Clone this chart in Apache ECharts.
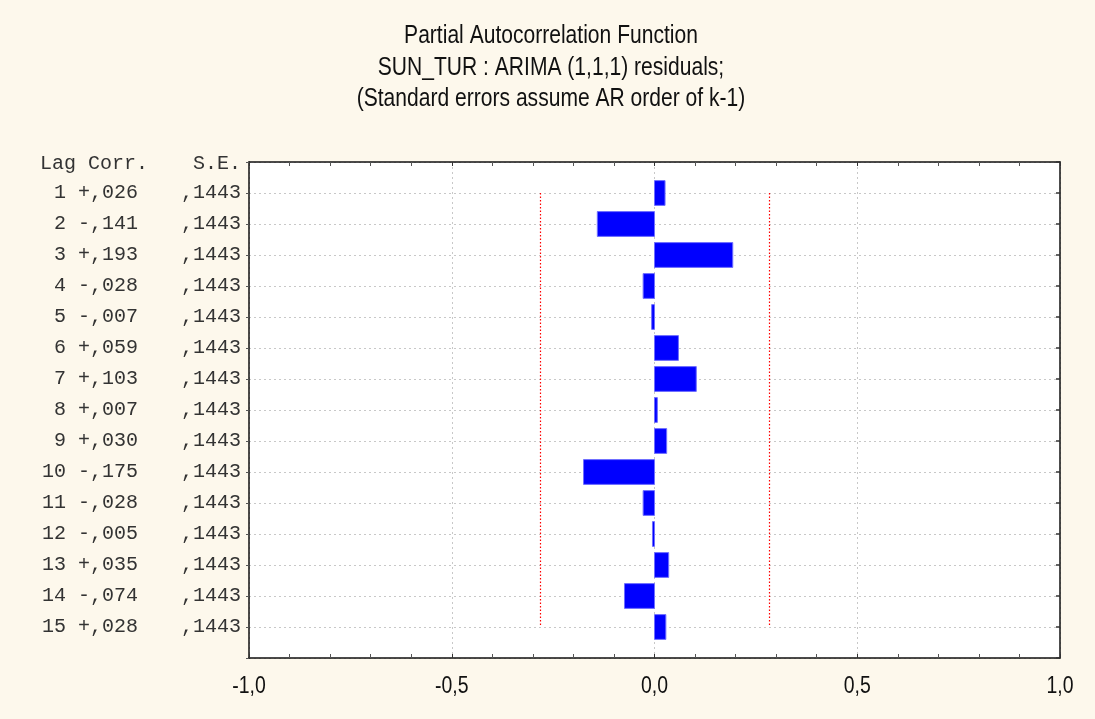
<!DOCTYPE html>
<html>
<head>
<meta charset="utf-8">
<script src="https://cdn.jsdelivr.net/npm/echarts@6/dist/echarts.min.js"></script>
<style>
  html, body { margin: 0; padding: 0; background: #fdf8ec; }
  #chart { width: 1095px; height: 719px; }
</style>
</head>
<body>
<div id="chart"></div>
<script>
// Partial autocorrelations of the ARIMA(1,1,1) residuals, lags 1..15
const lags = [1, 2, 3, 4, 5, 6, 7, 8, 9, 10, 11, 12, 13, 14, 15];
const corr = [0.026, -0.141, 0.193, -0.028, -0.007, 0.059, 0.103, 0.007, 0.030, -0.175, -0.028, -0.005, 0.035, -0.074, 0.028];
const stdErr = [0.1443, 0.1443, 0.1443, 0.1443, 0.1443, 0.1443, 0.1443, 0.1443, 0.1443, 0.1443, 0.1443, 0.1443, 0.1443, 0.1443, 0.1443];
const confLimit = 0.283;          // approx. 2 standard errors
const xTicks = [-1.0, -0.5, 0.0, 0.5, 1.0];
const titleLines = [
  'Partial Autocorrelation Function',
  'SUN_TUR : ARIMA (1,1,1) residuals;',
  '(Standard errors assume AR order of k-1)'
];

const MONO = '"Liberation Mono", "DejaVu Sans Mono", monospace';
const SANS = '"Liberation Sans", Arial, sans-serif';
const NARROW_SCALE = 0.81;        // condensed look for the sans text

function fmtCorr(v) {
  const s = v < 0 ? '-' : '+';
  return s + ',' + String(Math.round(Math.abs(v) * 1000)).padStart(3, '0');
}
function fmtSE(v) {
  return ',' + String(Math.round(v * 10000)).padStart(4, '0');
}
function fmtTick(v) {
  return v.toFixed(1).replace('.', ',');
}

const chart = echarts.init(document.getElementById('chart'));

const barData = lags.map((lag, i) => [corr[i], lag]);
const tickLabelData = xTicks.map(v => [v, 16]);

// vertical dotted confidence limit, spanning the first to the last lag
function limitSeries(x) {
  return {
    type: 'custom', xAxisIndex: 0, yAxisIndex: 0, silent: true,
    data: [[x, lags[0], lags[lags.length - 1]]],
    renderItem: (params, api) => {
      const a = api.coord([api.value(0), api.value(1)]);
      const b = api.coord([api.value(0), api.value(2)]);
      const px = Math.round(a[0]) + 0.5;
      return {
        type: 'line',
        shape: { x1: px, y1: a[1], x2: px, y2: b[1] },
        style: { stroke: '#ff0000', lineWidth: 1.2, lineDash: [1.5, 2] }
      };
    },
    z: 3
  };
}

chart.setOption({
  backgroundColor: '#fdf8ec',
  animation: false,
  grid: { left: 249, right: 35, top: 162, bottom: 61, show: true, backgroundColor: '#ffffff', borderWidth: 0 },
  graphic: [
    ...titleLines.map((t, i) => ({
      type: 'text', x: 551, y: 36 + i * 31.5, scaleX: NARROW_SCALE,
      style: { text: t, font: '26px ' + SANS, fill: '#111', align: 'center', verticalAlign: 'middle' }
    })),
    { type: 'text', x: 40, y: 164,
      style: { text: 'Lag Corr.', font: '20px ' + MONO, fill: '#333', align: 'left', verticalAlign: 'middle' } },
    { type: 'text', x: 241, y: 164,
      style: { text: 'S.E.', font: '20px ' + MONO, fill: '#333', align: 'right', verticalAlign: 'middle' } }
  ],
  xAxis: [
    {
      type: 'value', min: -1, max: 1, interval: 0.5, position: 'bottom',
      axisLine: { show: true, onZero: false, lineStyle: { color: '#111', width: 1.5 } },
      axisTick: { show: true, inside: true, length: 4, lineStyle: { color: '#333' } },
      minorTick: { show: true, splitNumber: 5, length: 4, lineStyle: { color: '#555' } },
      splitLine: { show: true, lineStyle: { color: '#c8c8c8', type: [2, 3], width: 1 } },
      axisLabel: { show: false }
    },
    {
      type: 'value', min: -1, max: 1, interval: 0.5, position: 'top',
      axisLine: { show: true, onZero: false, lineStyle: { color: '#111', width: 1.5 } },
      axisTick: { show: true, inside: true, length: 4, lineStyle: { color: '#333' } },
      minorTick: { show: true, splitNumber: 5, length: 4, lineStyle: { color: '#555' } },
      splitLine: { show: false },
      axisLabel: { show: false }
    }
  ],
  yAxis: [
    {
      type: 'value', min: 0, max: 16, interval: 1, inverse: true, position: 'left',
      axisLine: { show: true, onZero: false, lineStyle: { color: '#111', width: 1.5 } },
      axisTick: { show: true, inside: false, length: 3, lineStyle: { color: '#555' } },
      splitLine: { show: true, lineStyle: { color: '#c8c8c8', type: [2, 3], width: 1 } },
      axisLabel: {
        margin: 8, color: '#333', fontFamily: MONO, fontSize: 20,
        formatter: v => {
          const i = lags.indexOf(v);
          if (i < 0) return '';
          const lagStr = String(lags[i]).padStart(2, ' ');
          return '{a|' + lagStr + ' ' + fmtCorr(corr[i]) + '}{b|' + fmtSE(stdErr[i]) + '}';
        },
        rich: {
          a: { fontFamily: MONO, fontSize: 20, color: '#333' },
          b: { fontFamily: MONO, fontSize: 20, color: '#333', padding: [0, 0, 0, 43] }
        }
      }
    },
    {
      type: 'value', min: 0, max: 16, interval: 1, inverse: true, position: 'right',
      axisLine: { show: true, onZero: false, lineStyle: { color: '#111', width: 1.5 } },
      axisTick: { show: true, inside: true, length: 4, lineStyle: { color: '#333', width: 1.5 } },
      splitLine: { show: false },
      axisLabel: { show: false }
    }
  ],
  series: [
    {
      // correlation bars
      type: 'custom',
      xAxisIndex: 0, yAxisIndex: 0,
      data: barData,
      renderItem: (params, api) => {
        const v = api.value(0), lag = api.value(1);
        const p0 = api.coord([0, lag]);
        const p1 = api.coord([v, lag]);
        const h = api.size([0, 0.8])[1];
        const x = Math.min(p0[0], p1[0]);
        const w = Math.max(Math.abs(p1[0] - p0[0]), 1.5);
        return {
          type: 'rect',
          shape: { x: x, y: p0[1] - h / 2, width: w, height: h },
          style: { fill: '#0000ff', stroke: '#6f6fff', lineWidth: 1 }
        };
      },
      z: 5
    },
    {
      // x tick labels in a condensed sans face
      type: 'custom',
      xAxisIndex: 0, yAxisIndex: 0,
      clip: false,
      silent: true,
      data: tickLabelData,
      renderItem: (params, api) => {
        const p = api.coord([api.value(0), api.value(1)]);
        return {
          type: 'text', x: p[0], y: p[1] + 28, scaleX: NARROW_SCALE,
          style: { text: fmtTick(api.value(0)), font: '24px ' + SANS, fill: '#111',
                   align: 'center', verticalAlign: 'middle' }
        };
      },
      z: 6
    },
    limitSeries(-confLimit),
    limitSeries(confLimit)
  ]
});
</script>
</body>
</html>
